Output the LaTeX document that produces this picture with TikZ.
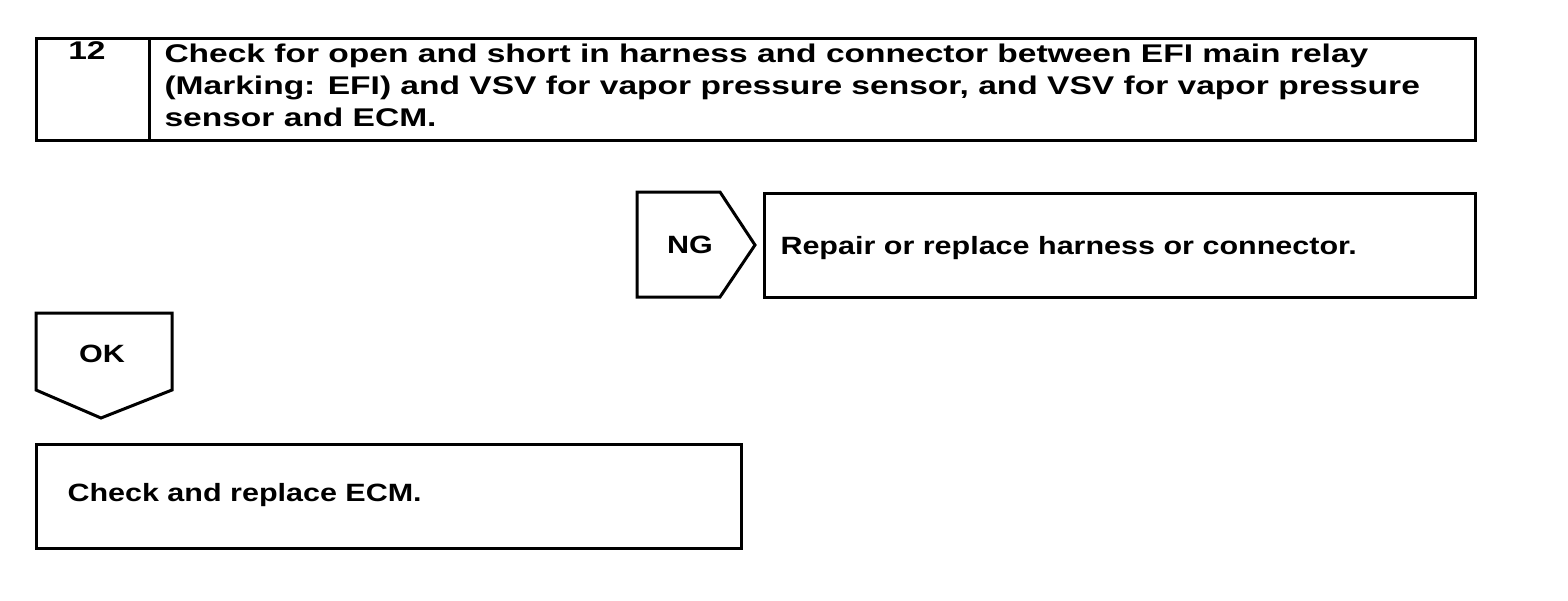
\documentclass[tikz,border=0pt]{standalone}
\usepackage{fontspec}
\setmainfont{Liberation Sans}
\newfontfamily\widetop[FakeStretch=1.31]{Liberation Sans}
\newfontfamily\widebox[FakeStretch=1.22]{Liberation Sans}
\begin{document}
\begin{tikzpicture}[x=0.5pt,y=-0.5pt,line width=1.5pt,
  label/.style={font=\widebox\fontsize{12.5}{16}\selectfont\bfseries,inner sep=0pt},
  headlabel/.style={font=\widetop\fontsize{12.8}{16}\selectfont\bfseries,inner sep=0pt}]
		%%%%% START %%%%%
		\useasboundingbox (0,0) rectangle (1568,600);
		
		% step box
		\draw (36,38) rectangle (1475,140);
		\draw (149,38) -- (149,140);
		\node[headlabel] (stepno) at (87,51) {12};
		\node[headlabel,anchor=north west,align=left] (steptext) at (163,42)
		  {Check for open and short in harness and connector between EFI main relay\\
		   (Marking: EFI) and VSV for vapor pressure sensor, and VSV for vapor pressure\\
		   sensor and ECM.};
		
		% NG branch
		\draw (637,192) -- (720,192) -- (755,245) -- (720,297) -- (637,297) -- cycle;
		\node[label] (ng) at (690,245) {NG};
		\draw (764,193) rectangle (1475,297);
		\node[label,anchor=base west] (repair) at (779,254) {Repair or replace harness or connector.};
		
		% OK branch
		\draw (36,313) -- (172,313) -- (172,390) -- (101,418) -- (36,390) -- cycle;
		\node[label] (ok) at (102,354) {OK};
		\draw (36,444) rectangle (741,548);
		\node[label,anchor=base west] (ecm) at (66,501) {Check and replace ECM.};
		
		%%%%% END %%%%%
	\end{tikzpicture}
\end{document}
